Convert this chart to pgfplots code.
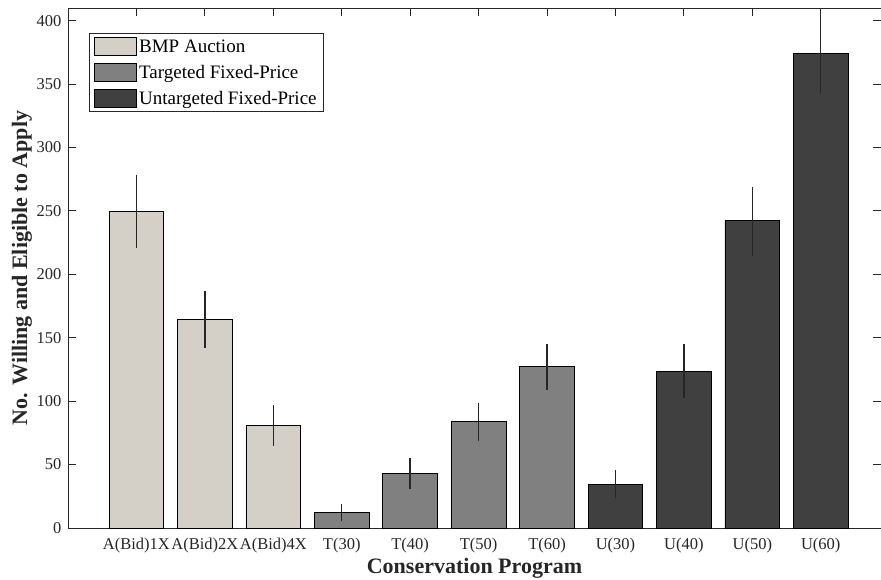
\documentclass[border=0pt]{standalone}
\usepackage{fontspec}
\setmainfont{Liberation Serif}
\usepackage{pgfplots}
\usepackage{pgfplotstable}
\pgfplotsset{compat=1.18}
\definecolor{bmp}{RGB}{212,208,200}
\definecolor{targ}{RGB}{128,128,128}
\definecolor{untarg}{RGB}{64,64,64}
\definecolor{axisgray}{RGB}{38,38,38}

\pgfplotstableread{
x y ep em
1 249.5 28.5 28.5
2 164.3 22.3 22.3
3 80.7 16 16
}\bmpdata
\pgfplotstableread{
x y ep em
4 12.0 7.3 6.8
5 42.8 12.4 12.4
6 83.8 15 15
7 127.7 17.5 18.5
}\targdata
\pgfplotstableread{
x y ep em
8 34.6 10.8 10.8
9 123.7 21.3 21
10 242.6 26 28
11 373.9 38 31.5
}\untargdata

\begin{document}
\begin{tikzpicture}
\path[use as bounding box] (-68pt,-51pt) rectangle (813pt,528pt);
\begin{axis}[
  at={(0pt,0pt)}, anchor=south west,
  scale only axis, width=813pt, height=520pt,
  xmin=0, xmax=11.88, ymin=0, ymax=410,
  ytick={0,50,...,400},
  xtick={1,...,11},
  xticklabels={A(Bid)1X,A(Bid)2X,A(Bid)4X,T(30),T(40),T(50),T(60),U(30),U(40),U(50),U(60)},
  tick align=inside, major tick length=8pt,
  axis line style={draw=axisgray, line width=0.9pt},
  tick style={draw=axisgray, line width=0.9pt},
  ticklabel style={font=\fontsize{16.5}{19}\selectfont, text=axisgray},
  xticklabel style={yshift=-7pt},
  yticklabel style={xshift=-3pt},
  /pgf/number format/assume math mode=true,
  xlabel={Conservation Program},
  ylabel={No. Willing and Eligible to Apply},
  every axis x label/.style={at={(axis description cs:0.5,-0.077)}, anchor=center,
    font=\fontsize{22}{26}\selectfont\bfseries, text=axisgray},
  every axis y label/.style={at={(axis description cs:-0.0566,0.5)}, anchor=center, rotate=90,
    font=\fontsize{22}{26}\selectfont\bfseries, text=axisgray},
  error bars/y dir=both, error bars/y explicit,
  error bars/error mark=none,
  error bars/error bar style={line width=1.4pt, color=black!85},
  legend image code/.code={\draw[#1, draw=black, line width=0.8pt] (0pt,-9pt) rectangle (42pt,9pt);},
  legend cell align=left,
  legend style={at={(axis description cs:0.0258,0.952)}, anchor=north west,
    draw=axisgray, line width=0.8pt, fill=white,
    font=\fontsize{19}{21}\selectfont,
    inner xsep=5pt, inner ysep=4pt, row sep=7pt,
    /tikz/every even column/.style={column sep=0pt}},
]
\addplot[ybar, bar width=0.8, bar shift=0pt, fill=bmp, draw=black, line width=0.8pt]
  table[x=x, y=y, y error plus=ep, y error minus=em] {\bmpdata};
\addlegendentry{BMP Auction}
\addplot[ybar, bar width=0.8, bar shift=0pt, fill=targ, draw=black, line width=0.8pt]
  table[x=x, y=y, y error plus=ep, y error minus=em] {\targdata};
\addlegendentry{Targeted Fixed-Price}
\addplot[ybar, bar width=0.8, bar shift=0pt, fill=untarg, draw=black, line width=0.8pt]
  table[x=x, y=y, y error plus=ep, y error minus=em] {\untargdata};
\addlegendentry{Untargeted Fixed-Price}
\end{axis}
\end{tikzpicture}
\end{document}
